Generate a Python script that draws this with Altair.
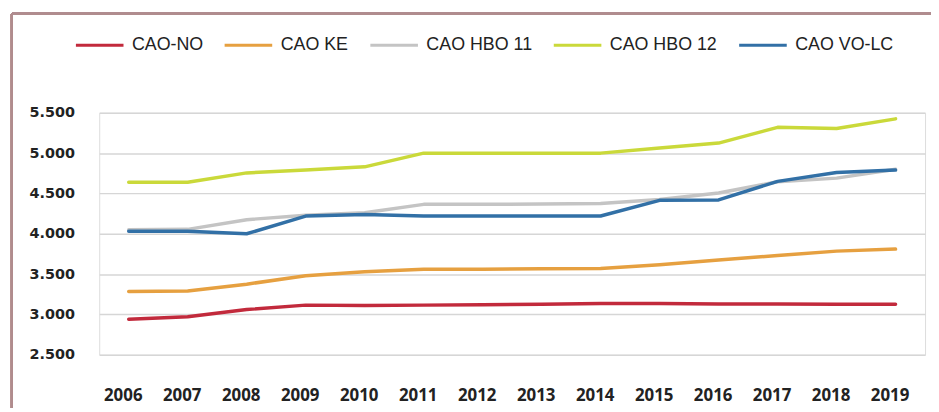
import altair as alt
import pandas as pd

years = [2006, 2007, 2008, 2009, 2010, 2011, 2012, 2013, 2014, 2015, 2016, 2017, 2018, 2019]
series_names = ["CAO-NO", "CAO KE", "CAO HBO 11", "CAO HBO 12", "CAO VO-LC"]
cao_no = [2940, 2970, 3060, 3115, 3110, 3115, 3120, 3125, 3135, 3135, 3130, 3130, 3125, 3125]
cao_ke = [3285, 3290, 3375, 3480, 3530, 3560, 3560, 3565, 3570, 3615, 3675, 3730, 3785, 3810]
cao_hbo11 = [4050, 4055, 4175, 4230, 4260, 4365, 4365, 4370, 4375, 4425, 4505, 4645, 4690, 4800]
cao_hbo12 = [4640, 4640, 4755, 4790, 4830, 5000, 5000, 5000, 5000, 5065, 5125, 5320, 5305, 5425]
cao_volc = [4030, 4030, 4000, 4220, 4240, 4220, 4220, 4220, 4220, 4415, 4420, 4650, 4760, 4790]
colors = ["#c22a3c", "#e6a040", "#c4c4c4", "#cad93a", "#3270a6"]
y_ticks = [2500, 3000, 3500, 4000, 4500, 5000, 5500]

rows = []
for name, vals in zip(series_names, [cao_no, cao_ke, cao_hbo11, cao_hbo12, cao_volc]):
    for yr, v in zip(years, vals):
        rows.append({"year": str(yr), "value": v, "series": name})
df = pd.DataFrame(rows)

lines = alt.Chart(df).mark_line(strokeWidth=3.5, strokeCap="round", strokeJoin="round").encode(
    x=alt.X("year:O", sort=[str(y) for y in years],
            scale=alt.Scale(type="point", padding=0.5),
            axis=alt.Axis(title=None, labelAngle=0, domain=False, ticks=False, grid=False,
                          labelFont="Open Sans", labelFontWeight="bold", labelFontSize=17,
                          labelColor="#222222", labelPadding=33, labelOffset=-6)),
    y=alt.Y("value:Q", scale=alt.Scale(domain=[2500, 5500], nice=False, zero=False),
            axis=alt.Axis(title=None, values=y_ticks, domain=False, ticks=False, grid=True,
                          gridColor="#d6d6d6", gridWidth=1.5,
                          labelFont="DejaVu Sans", labelFontWeight="bold", labelFontSize=14.5,
                          labelColor="#222222", labelPadding=25,
                          labelExpr="replace(format(datum.value, ','), ',', '.')")),
    color=alt.Color("series:N", sort=series_names,
                    scale=alt.Scale(domain=series_names, range=colors),
                    legend=alt.Legend(title=None, orient="none", direction="horizontal",
                                      legendX=-25, legendY=-94, symbolType="stroke",
                                      symbolSize=2304, symbolStrokeWidth=3,
                                      labelFont="Liberation Sans", labelFontSize=18,
                                      labelColor="#222222", labelOffset=7,
                                      columnPadding=15, padding=0)),
    order=alt.Order("year:O"),
)

frame_top = alt.Chart(df).mark_rule(color="#b08c8e", strokeWidth=2).encode(
    x=alt.value(-88), x2=alt.value(900), y=alt.value(-100)
)
frame_left = alt.Chart(df).mark_rule(color="#b08c8e", strokeWidth=2).encode(
    x=alt.value(-88), y=alt.value(-100), y2=alt.value(400)
)

chart = alt.layer(frame_top, frame_left, lines).properties(
    width=833, height=244,
    autosize=alt.AutoSizeParams(type="none"),
    padding={"left": 92, "top": 104, "right": 6, "bottom": 52},
).configure_view(stroke=None).configure(background="white")

chart.save("out.html", embed_options={"renderer": "svg", "actions": False})
